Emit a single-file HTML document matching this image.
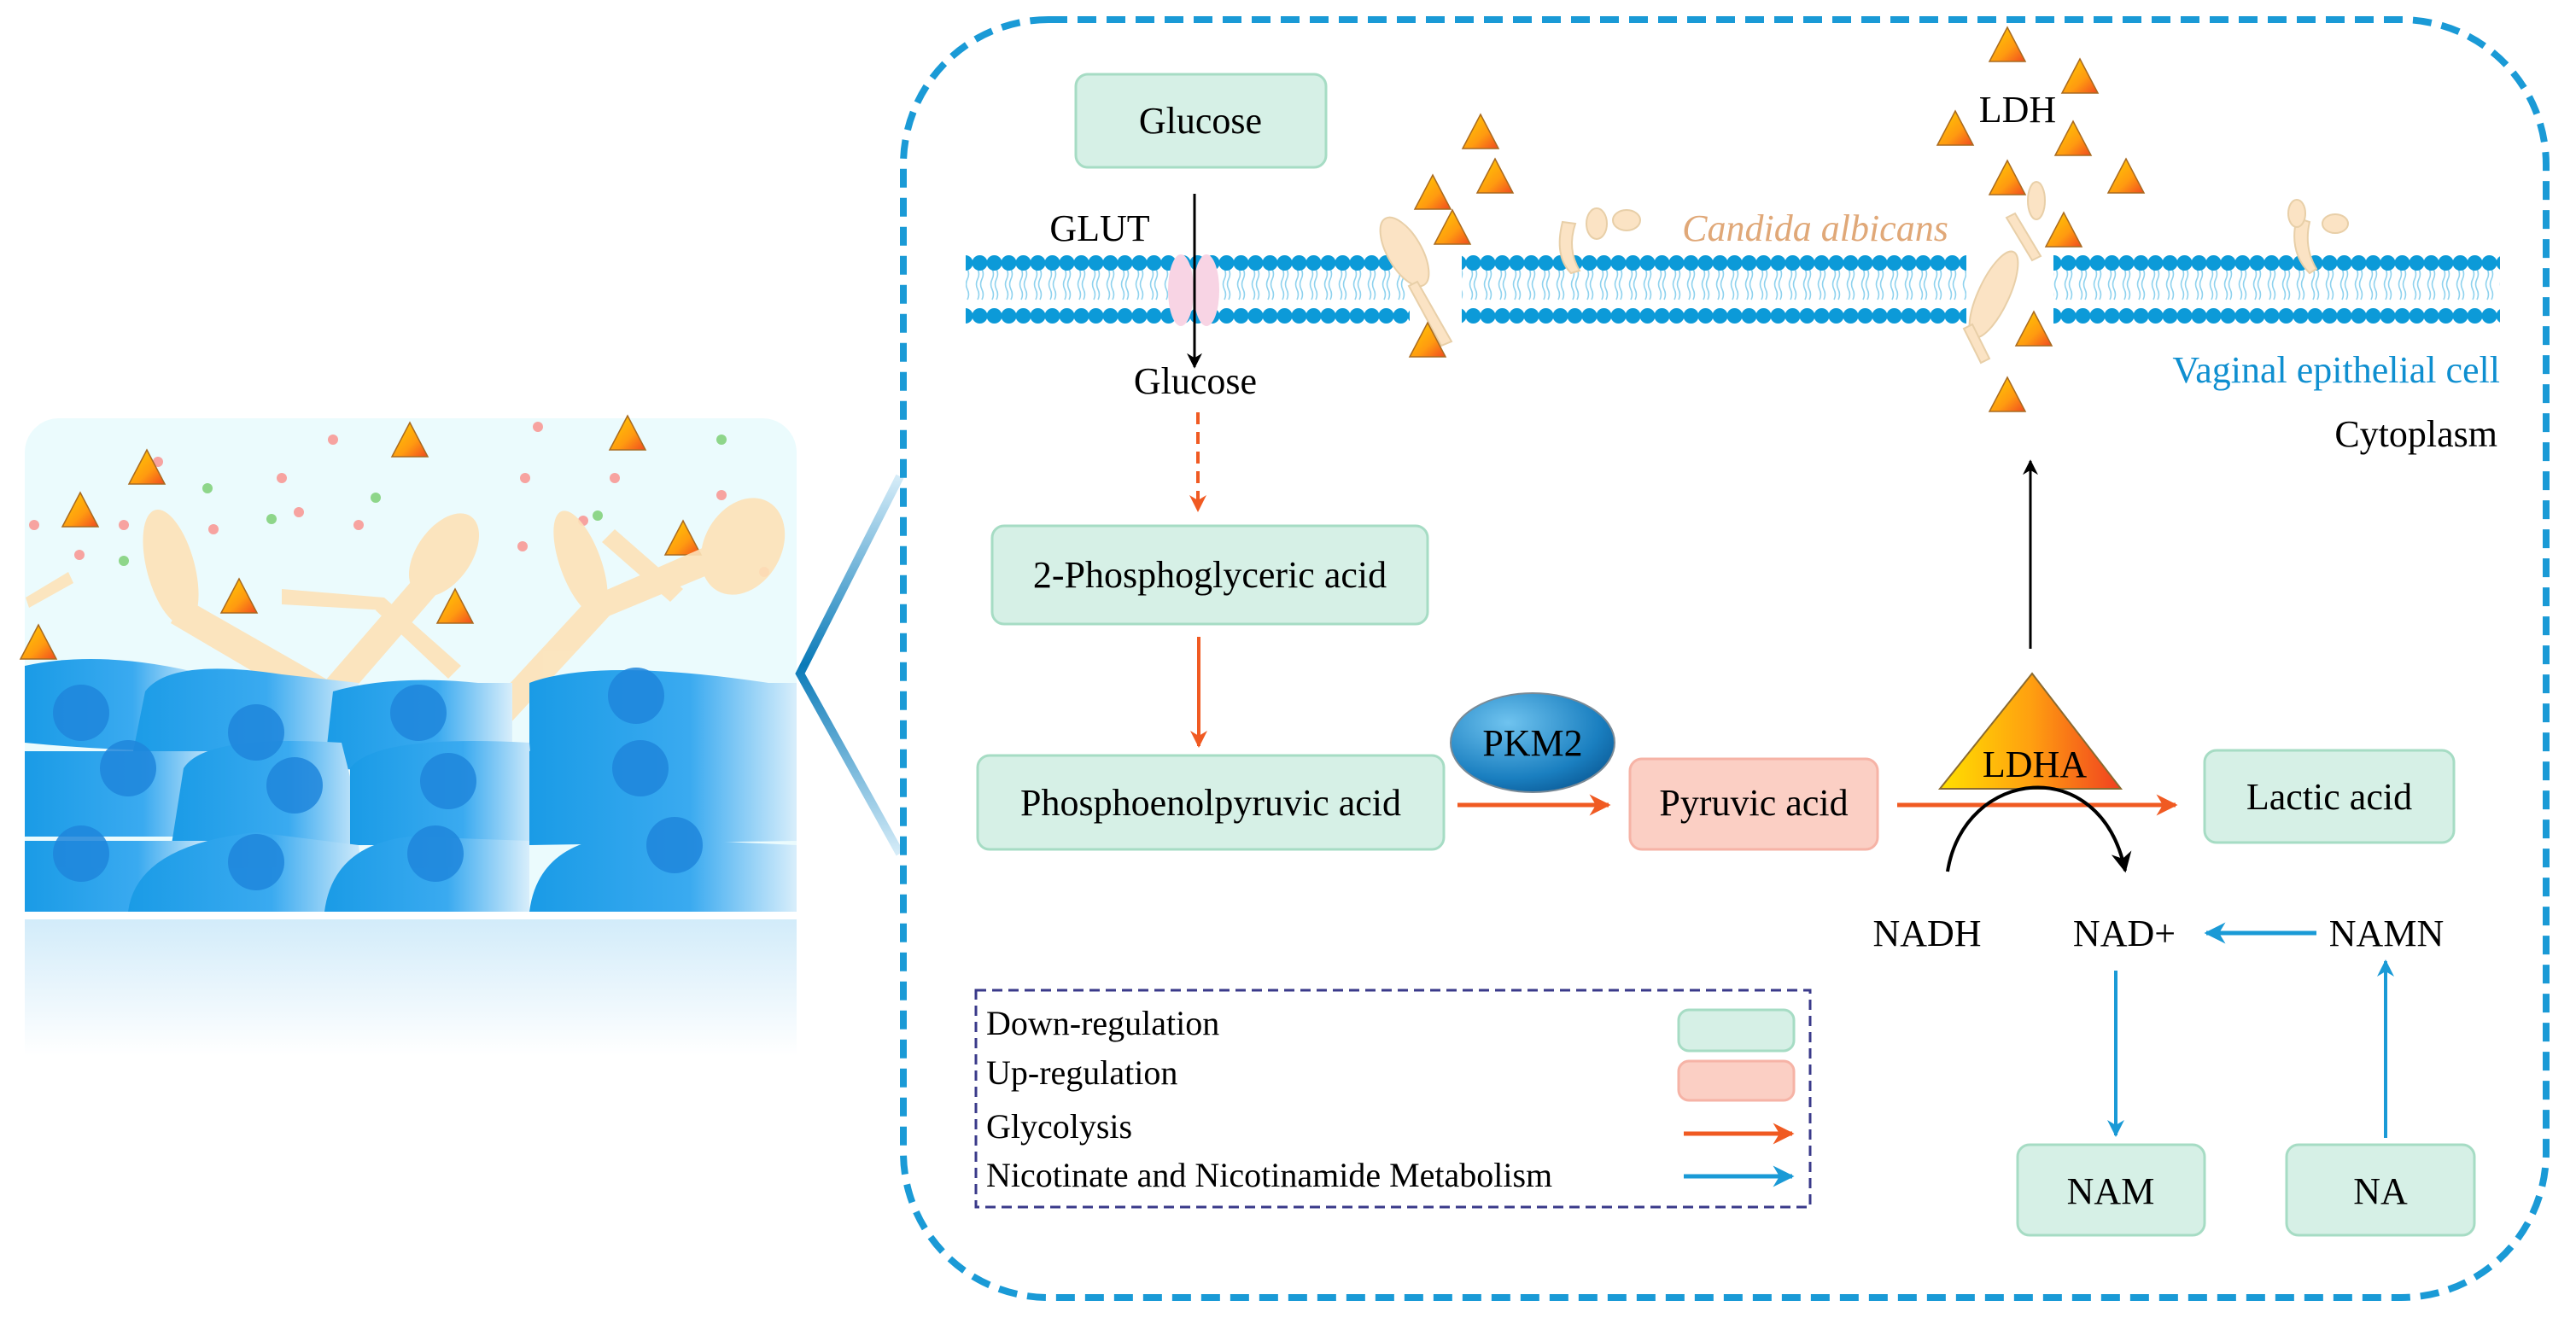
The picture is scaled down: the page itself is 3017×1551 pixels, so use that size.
<!DOCTYPE html>
<html><head><meta charset="utf-8"><style>
html,body{margin:0;padding:0;background:#fff;}
svg{display:block;font-family:"Liberation Serif","Times New Roman",serif;}
svg text{font-family:"Liberation Serif","Times New Roman",serif;}
</style></head><body>
<svg width="3017" height="1551" viewBox="0 0 3017 1551" xmlns="http://www.w3.org/2000/svg" font-family="Liberation Serif, serif">
<defs>
<linearGradient id="tri" x1="0" y1="0" x2="1" y2="1"><stop offset="0" stop-color="#ffd000"/><stop offset="0.6" stop-color="#ff9a10"/><stop offset="1" stop-color="#f04a20"/></linearGradient>
<linearGradient id="ldha" x1="0" y1="0" x2="1" y2="0"><stop offset="0" stop-color="#ffe000"/><stop offset="0.5" stop-color="#ffa010"/><stop offset="1" stop-color="#f04020"/></linearGradient>
<radialGradient id="pkm" cx="0.35" cy="0.3" r="0.8"><stop offset="0" stop-color="#6fc3ef"/><stop offset="0.7" stop-color="#1a7fc0"/><stop offset="1" stop-color="#0b5a96"/></radialGradient>
<linearGradient id="cell" x1="0" y1="0" x2="1" y2="0"><stop offset="0" stop-color="#1a9be6"/><stop offset="0.6" stop-color="#3aaaf0"/><stop offset="1" stop-color="#d8eefb"/></linearGradient>
<linearGradient id="refl" x1="0" y1="0" x2="0" y2="1"><stop offset="0" stop-color="#bfe3f7"/><stop offset="1" stop-color="#ffffff"/></linearGradient>
<linearGradient id="chev" x1="0" y1="0" x2="0" y2="1"><stop offset="0" stop-color="#d5ecf8"/><stop offset="0.5" stop-color="#0a7ab8"/><stop offset="1" stop-color="#d5ecf8"/></linearGradient>
<pattern id="mem" x="0" y="297" width="17" height="84" patternUnits="userSpaceOnUse">
<path d="M6 18 q3 6 0 12 q-3 6 0 12 q3 6 0 12 M11 18 q3 6 0 12 q-3 6 0 12 q3 6 0 12" stroke="#8fd2ee" stroke-width="1.6" fill="none"/>
<circle cx="8.5" cy="11" r="9" fill="#0c9ad8"/><circle cx="8.5" cy="73" r="9" fill="#0c9ad8"/>
</pattern>
<marker id="ab" viewBox="0 0 10 10" refX="9" refY="5" markerWidth="6" markerHeight="6" orient="auto"><path d="M0 0L10 5L0 10L3 5z" fill="#000"/></marker>
<marker id="ao" viewBox="0 0 10 10" refX="9" refY="5" markerWidth="5" markerHeight="5" orient="auto"><path d="M0 0L10 5L0 10L3 5z" fill="#f05a22"/></marker>
<marker id="ac" viewBox="0 0 10 10" refX="9" refY="5" markerWidth="5" markerHeight="5" orient="auto"><path d="M0 0L10 5L0 10L3 5z" fill="#1a9ad6"/></marker>
<g id="t"><path d="M0 -20 L21 20 L-21 20 Z" fill="url(#tri)" stroke="#a86a20" stroke-width="1.5"/></g>
</defs>

<!-- left panel -->
<rect x="29" y="490" width="904" height="578" rx="40" fill="#ebfbfd"/>
<g fill="#f7a3a0">
<circle cx="390" cy="515" r="6"/><circle cx="185" cy="541" r="6"/><circle cx="630" cy="500" r="6"/><circle cx="330" cy="560" r="6"/><circle cx="615" cy="560" r="6"/><circle cx="720" cy="560" r="6"/><circle cx="845" cy="580" r="6"/><circle cx="40" cy="615" r="6"/><circle cx="145" cy="615" r="6"/><circle cx="250" cy="620" r="6"/><circle cx="350" cy="600" r="6"/><circle cx="420" cy="615" r="6"/><circle cx="683" cy="610" r="6"/><circle cx="93" cy="650" r="6"/><circle cx="612" cy="640" r="6"/><circle cx="895" cy="670" r="6"/>
</g>
<g fill="#8ed68a">
<circle cx="243" cy="572" r="6"/><circle cx="440" cy="583" r="6"/><circle cx="318" cy="608" r="6"/><circle cx="700" cy="604" r="6"/><circle cx="845" cy="515" r="6"/><circle cx="145" cy="657" r="6"/>
</g>
<use href="#t" x="172" y="547"/><use href="#t" x="94" y="597"/><use href="#t" x="480" y="515"/><use href="#t" x="735" y="507"/><use href="#t" x="800" y="630"/><use href="#t" x="280" y="698"/><use href="#t" x="533" y="710"/><use href="#t" x="45" y="752"/>
<!-- fungi -->
<g fill="#fde2b8" opacity="0.9">
<ellipse cx="200" cy="665" rx="28" ry="70" transform="rotate(-15 200 665)"/>
<path d="M215 700 L390 800 L370 830 L200 730Z"/>
<path d="M370 810 L500 660 L525 680 L395 830Z"/>
<ellipse cx="520" cy="650" rx="32" ry="55" transform="rotate(35 520 650)"/>
<path d="M330 690 L450 700 L452 715 L330 708Z"/>
<path d="M450 700 L540 780 L525 795 L440 715Z"/>
<path d="M570 830 L690 700 L715 720 L595 850Z"/>
<ellipse cx="680" cy="660" rx="24" ry="65" transform="rotate(-20 680 660)"/>
<path d="M690 700 L850 630 L862 660 L705 725Z"/>
<ellipse cx="870" cy="640" rx="45" ry="60" transform="rotate(30 870 640)"/>
<path d="M30 700 L80 670 L86 683 L34 712Z"/>
<path d="M720 620 L800 690 L785 705 L705 635Z"/>
</g>
<!-- cells -->
<g fill="url(#cell)">
<path d="M29 780 Q120 760 240 790 L240 880 Q130 880 29 870Z"/>
<path d="M170 810 Q200 770 330 790 L420 800 L420 900 L150 910Z"/>
<path d="M390 810 Q460 790 560 800 L600 800 L600 910 L380 900Z"/>
<path d="M620 800 Q700 770 900 800 L933 800 L933 900 L620 900Z"/>
<path d="M29 880 L250 880 L260 980 L29 980Z"/>
<path d="M215 900 Q240 860 400 870 L430 990 L200 995Z"/>
<path d="M410 900 Q440 860 620 870 L630 990 L410 990Z"/>
<path d="M620 880 Q660 860 933 880 L933 985 L620 990Z"/>
<path d="M29 985 L250 985 L240 1068 L29 1068Z"/>
<path d="M150 1068 Q160 990 300 975 L420 990 L430 1068Z"/>
<path d="M380 1068 Q390 990 480 980 L620 985 L620 1068Z"/>
<path d="M620 1068 Q630 990 720 980 L933 990 L933 1068Z"/>
</g>
<g fill="#1f86dc" opacity="0.85">
<circle cx="95" cy="835" r="33"/><circle cx="300" cy="858" r="33"/><circle cx="490" cy="835" r="33"/><circle cx="745" cy="815" r="33"/>
<circle cx="150" cy="900" r="33"/><circle cx="345" cy="920" r="33"/><circle cx="525" cy="915" r="33"/><circle cx="750" cy="900" r="33"/>
<circle cx="95" cy="1000" r="33"/><circle cx="300" cy="1010" r="33"/><circle cx="510" cy="1000" r="33"/><circle cx="790" cy="990" r="33"/>
</g>
<rect x="29" y="1077" width="904" height="160" fill="url(#refl)" opacity="0.7"/>
<path d="M1054 558 L937 789 L1054 1000" stroke="url(#chev)" stroke-width="10" fill="none"/>

<!-- dashed border -->
<rect x="1058" y="23" width="1924" height="1497" rx="170" fill="none" stroke="#1a9ad6" stroke-width="8" stroke-dasharray="22 12"/>

<!-- membrane -->
<rect x="1131" y="297" width="520" height="84" fill="url(#mem)"/>
<rect x="1712" y="297" width="591" height="84" fill="url(#mem)"/>
<rect x="2405" y="297" width="523" height="84" fill="url(#mem)"/>
<ellipse cx="1383" cy="340" rx="15" ry="42" fill="#f8d4e4"/><ellipse cx="1413" cy="340" rx="15" ry="42" fill="#f8d4e4"/>
<g fill="#fbe3c4" stroke="#e8cfa8" stroke-width="2">
<ellipse cx="1645" cy="295" rx="20" ry="45" transform="rotate(-30 1645 295)"/>
<path d="M1660 330 L1700 400 L1688 405 L1650 335Z"/>
<path d="M1830 260 q-10 40 10 60 l10 -3 q-15 -25 -5 -55Z"/>
<ellipse cx="1870" cy="262" rx="12" ry="18"/><ellipse cx="1905" cy="258" rx="16" ry="12"/>
<ellipse cx="2335" cy="345" rx="18" ry="55" transform="rotate(25 2335 345)"/>
<path d="M2310 380 L2330 420 L2320 425 L2300 385Z"/>
<path d="M2360 250 L2390 300 L2380 305 L2350 255Z"/>
<ellipse cx="2385" cy="235" rx="10" ry="22"/>
<path d="M2690 255 q-10 40 15 65 l8 -5 q-15 -25 -8 -55Z"/><ellipse cx="2690" cy="250" rx="10" ry="16"/><ellipse cx="2735" cy="262" rx="15" ry="11"/>
</g>
<use href="#t" x="1734" y="154"/><use href="#t" x="1751" y="206"/><use href="#t" x="1678" y="225"/><use href="#t" x="1701" y="266"/><use href="#t" x="1672" y="398"/>
<use href="#t" x="2351" y="52"/><use href="#t" x="2436" y="89"/><use href="#t" x="2290" y="150"/><use href="#t" x="2428" y="162"/><use href="#t" x="2351" y="208"/><use href="#t" x="2490" y="206"/><use href="#t" x="2417" y="269"/><use href="#t" x="2382" y="385"/><use href="#t" x="2351" y="462"/>

<g font-family="Liberation Serif, serif">
<text x="2363" y="143" font-size="44" text-anchor="middle">LDH</text>
<text x="1288" y="282" font-size="44" text-anchor="middle">GLUT</text>
<text x="2126" y="282" font-size="44" font-style="italic" fill="#e0a878" text-anchor="middle">Candida albicans</text>
<text x="2928" y="448" font-size="44" fill="#0f8fd0" text-anchor="end">Vaginal epithelial cell</text>
<text x="2925" y="523" font-size="44" text-anchor="end">Cytoplasm</text>
</g>

<g stroke="#a6dcc4" stroke-width="3" fill="#d6f0e6">
<rect x="1260" y="87" width="293" height="109" rx="14"/>
<rect x="1162" y="616" width="510" height="115" rx="14"/>
<rect x="1145" y="885" width="546" height="110" rx="14"/>
<rect x="2582" y="879" width="292" height="108" rx="14"/>
<rect x="2363" y="1341" width="219" height="106" rx="14"/>
<rect x="2678" y="1341" width="220" height="106" rx="14"/>
<rect x="1966" y="1183" width="135" height="48" rx="12"/>
</g>
<g stroke="#f6b3a6" stroke-width="3" fill="#fbcfc4">
<rect x="1909" y="889" width="290" height="106" rx="14"/>
<rect x="1966" y="1243" width="135" height="46" rx="12"/>
</g>
<g font-size="44" text-anchor="middle" font-family="Liberation Serif, serif">
<text x="1406" y="156">Glucose</text>
<text x="1400" y="461">Glucose</text>
<text x="1417" y="688">2-Phosphoglyceric acid</text>
<text x="1418" y="955">Phosphoenolpyruvic acid</text>
<text x="2054" y="955">Pyruvic acid</text>
<text x="2728" y="948">Lactic acid</text>
<text x="2472" y="1410">NAM</text>
<text x="2788" y="1410">NA</text>
<text x="2257" y="1108">NADH</text>
<text x="2488" y="1108">NAD+</text>
<text x="2795" y="1108">NAMN</text>
</g>

<ellipse cx="1795" cy="870" rx="96" ry="58" fill="url(#pkm)" stroke="#7a8a96" stroke-width="2"/>
<text x="1795" y="885" font-size="44" text-anchor="middle" font-family="Liberation Serif, serif">PKM2</text>
<path d="M2380 789 L2484 924 L2272 924 Z" fill="url(#ldha)" stroke="#8a6a30" stroke-width="2"/>
<text x="2383" y="910" font-size="44" text-anchor="middle" font-family="Liberation Serif, serif">LDHA</text>

<line x1="1399" y1="227" x2="1399" y2="430" stroke="#000" stroke-width="3" marker-end="url(#ab)"/>
<line x1="1403" y1="483" x2="1403" y2="598" stroke="#f05a22" stroke-width="4" stroke-dasharray="14 9" marker-end="url(#ao)"/>
<line x1="1404" y1="746" x2="1404" y2="874" stroke="#f05a22" stroke-width="4" marker-end="url(#ao)"/>
<line x1="1707" y1="943" x2="1884" y2="943" stroke="#f05a22" stroke-width="5" marker-end="url(#ao)"/>
<line x1="2222" y1="943" x2="2548" y2="943" stroke="#f05a22" stroke-width="5" marker-end="url(#ao)"/>
<line x1="2378" y1="760" x2="2378" y2="540" stroke="#000" stroke-width="3" marker-end="url(#ab)"/>
<path d="M2281 1021 C2300 900, 2460 880, 2489 1020" stroke="#000" stroke-width="4" fill="none" marker-end="url(#ab)"/>
<line x1="2713" y1="1093" x2="2584" y2="1093" stroke="#1a9ad6" stroke-width="5" marker-end="url(#ac)"/>
<line x1="2478" y1="1137" x2="2478" y2="1330" stroke="#1a9ad6" stroke-width="4" marker-end="url(#ac)"/>
<line x1="2794" y1="1333" x2="2794" y2="1126" stroke="#1a9ad6" stroke-width="4" marker-end="url(#ac)"/>

<rect x="1143" y="1160" width="977" height="254" fill="none" stroke="#3a3a8a" stroke-width="3" stroke-dasharray="12 7"/>
<g font-size="40" font-family="Liberation Serif, serif">
<text x="1155" y="1212">Down-regulation</text>
<text x="1155" y="1270">Up-regulation</text>
<text x="1155" y="1333">Glycolysis</text>
<text x="1155" y="1390">Nicotinate and Nicotinamide Metabolism</text>
</g>
<line x1="1972" y1="1328" x2="2099" y2="1328" stroke="#f05a22" stroke-width="5" marker-end="url(#ao)"/>
<line x1="1972" y1="1378" x2="2099" y2="1378" stroke="#1a9ad6" stroke-width="5" marker-end="url(#ac)"/>
</svg>
</body></html>
